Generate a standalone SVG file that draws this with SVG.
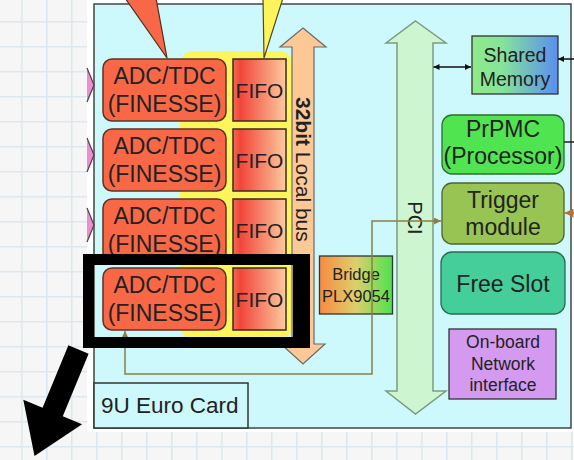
<svg xmlns="http://www.w3.org/2000/svg" width="574" height="460" viewBox="0 0 574 460">
  <defs>
    <pattern id="grid" x="21" y="21" width="25" height="25" patternUnits="userSpaceOnUse">
      <path d="M0.75,0 V25 M0,0.75 H25" stroke="#dbe8ef" stroke-width="1.6" fill="none"/>
    </pattern>
    <linearGradient id="fifoGrad" x1="0" y1="0" x2="1" y2="0">
      <stop offset="0" stop-color="#f46a52"/>
      <stop offset="0.14" stop-color="#f1463a"/>
      <stop offset="1" stop-color="#fdca9f"/>
    </linearGradient>
    <linearGradient id="sharedGrad" x1="0" y1="0" x2="1" y2="0">
      <stop offset="0" stop-color="#8fea8a"/>
      <stop offset="0.35" stop-color="#86e39a"/>
      <stop offset="1" stop-color="#5a8ef0"/>
    </linearGradient>
    <linearGradient id="bridgeGrad" x1="0" y1="0" x2="1" y2="0">
      <stop offset="0" stop-color="#f98a42"/>
      <stop offset="0.5" stop-color="#dccf6c"/>
      <stop offset="1" stop-color="#4ee24e"/>
    </linearGradient>
    <marker id="arrBlack" viewBox="0 0 10 10" refX="10" refY="5" markerUnits="userSpaceOnUse" markerWidth="8" markerHeight="6" orient="auto-start-reverse">
      <path d="M0,0 L10,5 L0,10 z" fill="#111"/>
    </marker>
    <marker id="arrOlive" viewBox="0 0 10 10" refX="10" refY="5" markerUnits="userSpaceOnUse" markerWidth="8" markerHeight="7" orient="auto-start-reverse">
      <path d="M0,0 L10,5 L0,10 z" fill="#8a8044"/>
    </marker>
    <marker id="arrBrown" viewBox="0 0 10 10" refX="10" refY="5" markerUnits="userSpaceOnUse" markerWidth="10" markerHeight="9" orient="auto-start-reverse">
      <path d="M0,0 L10,5 L0,10 z" fill="#b8703a"/>
    </marker>
    <style>
      .lbl { font-family: "Liberation Sans", Arial, sans-serif; fill: #222; text-anchor: middle; }
      .big { font-size: 23px; }
      .adc { fill: #f96846; stroke: #5a3428; stroke-width: 1.5; }
      .fifo { fill: url(#fifoGrad); stroke: #3a2a22; stroke-width: 1.5; }
      .pink { fill: #f08cd2; }
      .edge { fill: none; stroke: #444; stroke-width: 1.2; }
      .conn { fill: none; stroke-width: 1.5; }
    </style>
  </defs>

  <!-- page background with grid -->
  <rect x="0" y="0" width="574" height="460" fill="#f6f6f6"/>
  <rect x="0" y="0" width="574" height="460" fill="url(#grid)"/>

  <!-- white sheet behind the card -->
  <rect x="87" y="0" width="487" height="432" fill="#ffffff"/>

  <!-- 9U Euro Card outline -->
  <rect id="card" x="94" y="4" width="477" height="424" fill="#cdf8fc" stroke="#444" stroke-width="1.5"/>

  <!-- input markers on the left edge -->
  <g id="inputs">
    <polygon class="pink" points="87,68 94,85 87,102"/>
    <polyline class="edge" points="87,68 94,85 87,102"/>
    <polygon class="pink" points="87,138 94,155 87,172"/>
    <polyline class="edge" points="87,138 94,155 87,172"/>
    <polygon class="pink" points="87,208 94,225 87,242"/>
    <polyline class="edge" points="87,208 94,225 87,242"/>
  </g>

  <!-- FIFO backplate -->
  <rect id="fifo-area" x="180" y="51" width="113" height="288" rx="14" fill="#fdf55c"/>

  <!-- 32bit local bus -->
  <g id="local-bus">
    <polygon points="303,28 326,47 314,47 314,344 325,344 303,364 281,344 292,344 292,47 280,47" fill="#fcc896" stroke="#6a6a6a" stroke-width="1.2"/>
    <text class="lbl" transform="translate(296,97) rotate(90)" style="text-anchor:start;font-size:21px"><tspan font-weight="bold">32bit</tspan> Local bus</text>
  </g>

  <!-- PCI bus -->
  <g id="pci">
    <polygon points="415.5,21 446,43 433,43 433,391 446,391 415.5,414 386,391 397,391 397,43 386,43" fill="#cdf5d0" stroke="#7c9a80" stroke-width="1.5"/>
    <text class="lbl" transform="translate(408,218) rotate(90)" style="font-size:20px">PCI</text>
  </g>

  <!-- ADC/TDC channels -->
  <g id="adc1">
    <rect class="adc" x="103" y="59" width="123" height="62" rx="9"/>
    <text class="lbl big" x="164.5" y="84">ADC/TDC</text>
    <text class="lbl big" x="164.5" y="112">(FINESSE)</text>
  </g>
  <g id="adc2">
    <rect class="adc" x="103" y="129" width="123" height="62" rx="9"/>
    <text class="lbl big" x="164.5" y="154">ADC/TDC</text>
    <text class="lbl big" x="164.5" y="182">(FINESSE)</text>
  </g>
  <g id="adc3">
    <rect class="adc" x="103" y="199" width="123" height="62" rx="9"/>
    <text class="lbl big" x="164.5" y="224">ADC/TDC</text>
    <text class="lbl big" x="164.5" y="252">(FINESSE)</text>
  </g>
  <g id="adc4">
    <rect class="adc" x="103" y="268" width="123" height="62" rx="9"/>
    <text class="lbl big" x="164.5" y="293">ADC/TDC</text>
    <text class="lbl big" x="164.5" y="321">(FINESSE)</text>
  </g>

  <!-- FIFOs -->
  <g id="fifo1">
    <rect class="fifo" x="233" y="59" width="53" height="62"/>
    <text class="lbl" x="259.5" y="98" font-size="21">FIFO</text>
  </g>
  <g id="fifo2">
    <rect class="fifo" x="233" y="129" width="53" height="62"/>
    <text class="lbl" x="259.5" y="168" font-size="21">FIFO</text>
  </g>
  <g id="fifo3">
    <rect class="fifo" x="233" y="199" width="53" height="62"/>
    <text class="lbl" x="259.5" y="238" font-size="21">FIFO</text>
  </g>
  <g id="fifo4">
    <rect class="fifo" x="233" y="268" width="53" height="62"/>
    <text class="lbl" x="259.5" y="307" font-size="21">FIFO</text>
  </g>

  <!-- Bridge -->
  <g id="bridge">
    <rect x="319.5" y="256" width="73" height="58" fill="url(#bridgeGrad)" stroke="#333" stroke-width="1.3"/>
    <text class="lbl" x="356" y="280" font-size="16.5">Bridge</text>
    <text class="lbl" x="356" y="302" font-size="16.5">PLX9054</text>
  </g>

  <!-- Shared memory -->
  <g id="shared-memory">
    <rect x="472" y="36" width="86" height="58" fill="url(#sharedGrad)" stroke="#333" stroke-width="1.3"/>
    <text class="lbl" x="515" y="62" font-size="19.5">Shared</text>
    <text class="lbl" x="515" y="86" font-size="19.5">Memory</text>
  </g>

  <!-- Processor -->
  <g id="prpmc">
    <rect x="442" y="115" width="122" height="59" rx="10" fill="#50e450" stroke="#2f6a2f" stroke-width="1.3"/>
    <text class="lbl big" x="503" y="137">PrPMC</text>
    <text class="lbl big" x="503" y="164">(Processor)</text>
  </g>

  <!-- Trigger module -->
  <g id="trigger">
    <rect x="442" y="183" width="122" height="61" rx="10" fill="#98c454" stroke="#4f6430" stroke-width="1.3"/>
    <text class="lbl big" x="503" y="208">Trigger</text>
    <text class="lbl big" x="503" y="235">module</text>
  </g>

  <!-- Free slot -->
  <g id="free-slot">
    <rect x="441" y="252" width="124" height="62" rx="11" fill="#45cd9a" stroke="#2d6a52" stroke-width="1.3"/>
    <text class="lbl big" x="503" y="292">Free Slot</text>
  </g>

  <!-- Network interface -->
  <g id="network">
    <rect x="449" y="329" width="107" height="70" fill="#d49af0" stroke="#333" stroke-width="1.3"/>
    <text class="lbl" x="503" y="348" font-size="17.5">On-board</text>
    <text class="lbl" x="503" y="369.5" font-size="17.5">Network</text>
    <text class="lbl" x="503" y="391" font-size="17.5">interface</text>
  </g>

  <!-- callout wedges from the chip views -->
  <g id="callouts">
    <polygon points="125,-2 156,-2 167,58" fill="#f96846" stroke="#4a3028" stroke-width="1.2" stroke-linejoin="round"/>
    <polygon points="263,-2 283,-2 264,58" fill="#fdf35a" stroke="#4a4a30" stroke-width="1.2" stroke-linejoin="round"/>
  </g>

  <!-- connectors -->
  <g id="connectors">
    <path class="conn" d="M125,331 V374 H372 V221 H441" stroke="#8a8044" marker-start="url(#arrOlive)" marker-end="url(#arrOlive)"/>
    <line class="conn" x1="433.5" y1="67" x2="471" y2="67" stroke="#111" stroke-width="1.3" marker-start="url(#arrBlack)" marker-end="url(#arrBlack)"/>
    <line class="conn" x1="576" y1="59" x2="558" y2="59" stroke="#111" stroke-width="1.3" marker-end="url(#arrBlack)"/>
    <line class="conn" x1="564" y1="142" x2="576" y2="142" stroke="#222" stroke-width="1.2"/>
    <line class="conn" x1="576" y1="213" x2="564.5" y2="213" stroke="#b8703a" marker-end="url(#arrBrown)"/>
  </g>

  <!-- card title -->
  <g id="card-label">
    <rect x="94" y="383" width="154" height="45" fill="#cdf8fc" stroke="#333" stroke-width="1.5"/>
    <text class="lbl" x="101" y="413" font-size="22.5" style="text-anchor:start">9U Euro Card</text>
  </g>

  <!-- highlight frame around the fourth channel -->
  <path id="highlight" d="M83,254 H310 V348 H83 Z M94,265 V337 H293 V265 Z" fill="#000" fill-rule="evenodd"/>

  <!-- pointer arrow -->
  <polygon id="pointer" points="68.4,345.3 88.6,353.7 62.8,416.2 82.1,424.2 34.5,456 23.3,399.8 42.6,407.8" fill="#000"/>
</svg>
